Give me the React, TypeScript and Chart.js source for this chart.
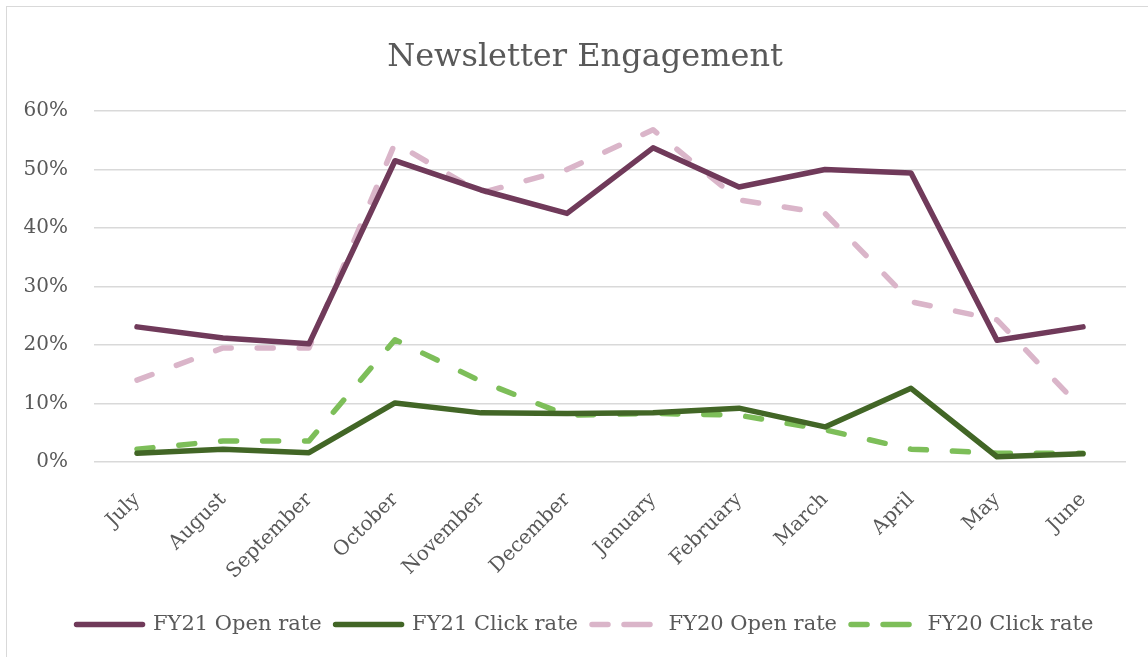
import React, { useEffect, useRef } from 'react';
import { Chart, registerables } from 'chart.js';

Chart.register(...registerables);

const months = ['July', 'August', 'September', 'October', 'November', 'December', 'January', 'February', 'March', 'April', 'May', 'June'];
const fy21Open = [23.1, 21.2, 20.2, 51.5, 46.5, 42.5, 53.7, 47.0, 50.0, 49.4, 20.8, 23.1];
const fy21Click = [1.5, 2.2, 1.6, 10.1, 8.4, 8.3, 8.4, 9.2, 6.0, 12.6, 0.9, 1.4];
const fy20Open = [14.0, 19.5, 19.5, 54.5, 46.0, 50.0, 56.8, 44.8, 42.5, 27.4, 24.3, 8.9];
const fy20Click = [2.2, 3.6, 3.6, 20.9, 13.8, 8.0, 8.3, 8.0, 5.5, 2.2, 1.5, 1.5];
const seriesNames = ['FY21 Open rate', 'FY21 Click rate', 'FY20 Open rate', 'FY20 Click rate'];
const yTicks = [0, 10, 20, 30, 40, 50, 60];

const FONT = 'DejaVu Serif';
const TEXT = '#595959';

// shifts title and legend so they are centred on the original (wider) chart frame
const shiftBoxes = {
  id: 'shiftBoxes',
  afterLayout(chart: any) {
    const dx = 22;
    for (const b of [chart.legend, chart.titleBlock]) {
      if (b) {
        b.left += dx;
        b.right += dx;
      }
    }
  },
};

export default function App() {
  const ref = useRef<HTMLCanvasElement | null>(null);

  useEffect(() => {
    const canvas = ref.current;
    if (!canvas) return;
    const dash = [16, 26];
    const mk = (label: string, data: number[], color: string, dashed: boolean) => ({
      label,
      data,
      borderColor: color,
      backgroundColor: 'transparent',
      borderWidth: 5.5,
      borderDash: dashed ? dash : [],
      borderCapStyle: 'round' as const,
      borderJoinStyle: 'round' as const,
      pointRadius: 0,
      pointHoverRadius: 0,
      tension: 0,
      fill: false,
    });
    const chart = new Chart(canvas, {
      type: 'line',
      data: {
        labels: months,
        datasets: [
          mk(seriesNames[0], fy21Open, '#703a5a', false),
          mk(seriesNames[1], fy21Click, '#426626', false),
          mk(seriesNames[2], fy20Open, '#dab5c9', true),
          mk(seriesNames[3], fy20Click, '#7dbe59', true),
        ],
      },
      plugins: [shiftBoxes],
      options: {
        responsive: false,
        animation: false,
        devicePixelRatio: 1,
        layout: { padding: { top: 38, left: 0, right: 22, bottom: 12 } },
        plugins: {
          title: {
            display: true,
            text: 'Newsletter Engagement',
            color: TEXT,
            font: { family: FONT, size: 32, weight: 'normal' },
            padding: { top: 0, bottom: 34.6 },
          },
          legend: {
            position: 'bottom',
            labels: {
              boxWidth: 66,
              boxHeight: 0,
              padding: 14,
              color: TEXT,
              font: { family: FONT, size: 21 },
            },
          },
          tooltip: { enabled: false },
        },
        scales: {
          x: {
            offset: true,
            grid: { display: false },
            border: { display: false },
            ticks: {
              minRotation: 45,
              maxRotation: 45,
              padding: 18,
              color: TEXT,
              font: { family: FONT, size: 20 },
            },
            afterFit: (s: any) => {
              s.height = 138;
            },
          },
          y: {
            min: yTicks[0],
            max: yTicks[yTicks.length - 1],
            afterBuildTicks: (s: any) => {
              s.ticks = yTicks.map((v) => ({ value: v }));
            },
            ticks: {
              callback: (v: any) => v + '%',
              padding: 26,
              color: TEXT,
              font: { family: FONT, size: 20 },
            },
            grid: { color: '#d9d9d9', lineWidth: 1.5, drawTicks: false },
            border: { display: false },
            afterFit: (s: any) => {
              s.width = 94;
            },
          },
        },
      },
    });
    return () => chart.destroy();
  }, []);

  return (
    <div style={{ position: 'fixed', left: 0, top: 0, width: 1148, height: 657, background: '#fff', overflow: 'hidden' }}>
      <canvas ref={ref} width={1148} height={657} style={{ position: 'absolute', left: 0, top: 0, width: 1148, height: 657 }} />
      <div
        style={{
          position: 'absolute',
          left: 6,
          top: 6,
          width: 1160,
          height: 670,
          borderLeft: '1.5px solid #d9d9d9',
          borderTop: '1.5px solid #d9d9d9',
          pointerEvents: 'none',
        }}
      />
    </div>
  );
}
